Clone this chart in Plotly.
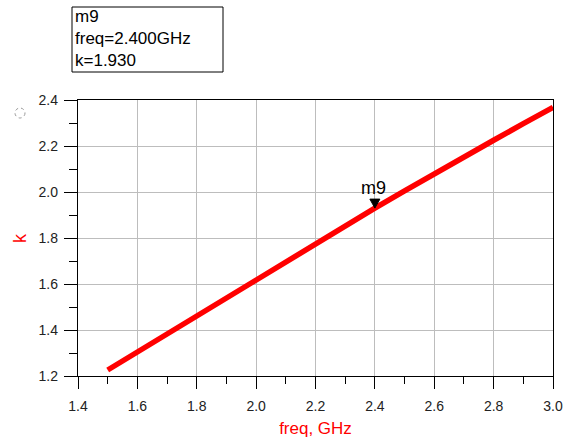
import plotly.graph_objects as go

freq = [1.5, 1.6, 1.7, 1.8, 1.9, 2.0, 2.1, 2.2, 2.3, 2.4, 2.5, 2.6, 2.7, 2.8, 2.9, 3.0]
k = [1.226, 1.305, 1.384, 1.462, 1.540, 1.618, 1.696, 1.774, 1.852, 1.930,
     2.005, 2.080, 2.153, 2.225, 2.297, 2.368]

marker_name = "m9"
marker_freq = 2.4
marker_k = 1.930
marker_lines = ["m9", "freq=2.400GHz", "k=1.930"]

x_ticks = [1.4, 1.6, 1.8, 2.0, 2.2, 2.4, 2.6, 2.8, 3.0]
y_ticks = [1.2, 1.4, 1.6, 1.8, 2.0, 2.2, 2.4]

FONT = "Liberation Sans, Arial, sans-serif"
W, H = 577, 438
L, R, T, B = 78, 24, 100, 62
PW, PH = W - L - R, H - T - B


def px(x):
    return (x - L) / PW


def py(y):
    return (H - B - y) / PH


fig = go.Figure()
fig.add_trace(go.Scatter(x=freq, y=k, mode="lines",
                         line=dict(color="#ff0000", width=5.5),
                         hoverinfo="skip", showlegend=False))

axis_common = dict(
    showline=True, linecolor="black", linewidth=1.3, mirror=True,
    showgrid=True, gridcolor="#bdbdbd", gridwidth=1,
    zeroline=False, ticks="outside", tickcolor="black", tickwidth=1.2,
    tickfont=dict(family=FONT, size=14, color="#222222"),
    tickformat=".1f", automargin=False,
)

fig.update_xaxes(range=[1.4, 3.0], tickvals=x_ticks, ticklen=12, ticklabelstandoff=5,
                 minor=dict(dtick=0.1, tick0=1.4, ticks="outside", ticklen=7,
                            tickcolor="black", tickwidth=1.2, showgrid=False),
                 title=dict(text="freq, GHz", font=dict(family=FONT, size=17, color="#ff0000"),
                            standoff=18),
                 **axis_common)
fig.update_yaxes(range=[1.2, 2.4], tickvals=y_ticks, ticklen=13, ticklabelstandoff=3,
                 minor=dict(dtick=0.1, tick0=1.2, ticks="outside", ticklen=8,
                            tickcolor="black", tickwidth=1.2, showgrid=False),
                 **axis_common)

# y-axis title
fig.add_annotation(x=px(20), y=0.5, xref="paper", yref="paper", text="k",
                   textangle=-90, showarrow=False, xanchor="center", yanchor="middle",
                   font=dict(family=FONT, size=18, color="#ff0000"))

# marker triangle (tip on curve)
fig.add_shape(type="path", xref="x", yref="y", xsizemode="pixel", ysizemode="pixel",
              xanchor=marker_freq, yanchor=marker_k,
              path="M -5 9 L 5 9 L 0 0 Z", fillcolor="black", line=dict(color="black", width=1))
fig.add_annotation(x=marker_freq, y=marker_k, xref="x", yref="y", text=marker_name,
                   showarrow=False, xanchor="center", yanchor="bottom", yshift=8, xshift=-1,
                   font=dict(family=FONT, size=18, color="black"))

# marker readout box
fig.add_shape(type="rect", xref="paper", yref="paper",
              x0=px(72), x1=px(223), y0=py(72), y1=py(7),
              line=dict(color="black", width=1), fillcolor="rgba(0,0,0,0)", layer="above")
fig.add_annotation(x=px(73), y=py(5), xref="paper", yref="paper",
                   text="<br>".join(marker_lines), showarrow=False,
                   xanchor="left", yanchor="top", align="left",
                   font=dict(family=FONT, size=17, color="black"))

# small dotted circle icon
fig.add_shape(type="circle", xref="paper", yref="paper",
              x0=px(15), x1=px(25), y0=py(118), y1=py(108),
              line=dict(color="#999999", width=1, dash="dot"))

fig.update_layout(width=W, height=H, margin=dict(l=L, r=R, t=T, b=B),
                  paper_bgcolor="white", plot_bgcolor="white", showlegend=False)

fig.write_html("out.html")
